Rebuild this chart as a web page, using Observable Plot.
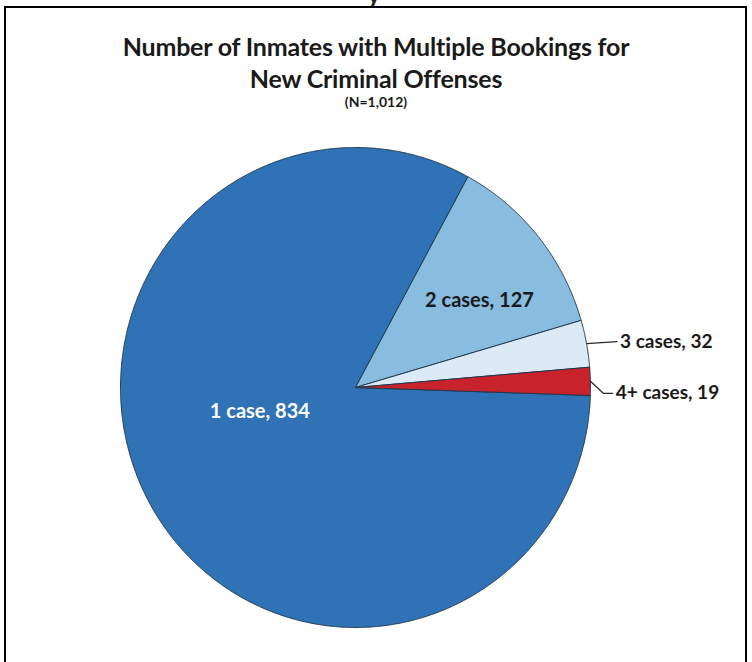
<!DOCTYPE html>
<html>
<head>
<meta charset="utf-8">
<script src="https://cdn.jsdelivr.net/npm/d3@7"></script>
<script src="https://cdn.jsdelivr.net/npm/@observablehq/plot@0.6"></script>
<style>
  html, body { margin: 0; padding: 0; background: #fff; }
  #wrap { position: relative; width: 752px; height: 662px; overflow: hidden; background: #fff; }
  #frame { position: absolute; left: 4px; top: 6px; width: 739px; height: 720px; border: 2px solid #000; border-bottom: none; }
  #cut { position: absolute; left: 367px; top: -22px; font: bold 26px "Lato", sans-serif; color: #222; }
  #title { position: absolute; left: 0; top: 0; width: 752px; height: 120px; text-align: center; font-family: "Lato", "Open Sans", sans-serif; font-weight: bold; color: #1a1a1a; }
  #t1 { position: absolute; left: 0; width: 752px; top: 31px; font-size: 25px; line-height: 30px; letter-spacing: -0.2px; }
  #t2 { position: absolute; left: 0; width: 752px; top: 63px; font-size: 25px; line-height: 30px; letter-spacing: -0.2px; }
  #t3 { position: absolute; left: 0; width: 752px; top: 94px; font-size: 14px; line-height: 16px; }
  #chart { position: absolute; left: 0; top: 120px; }
</style>
</head>
<body>
<div id="wrap">
  <div id="cut">y</div>
  <div id="frame"></div>
  <div id="title">
    <div id="t1">Number of Inmates with Multiple Bookings for</div>
    <div id="t2">New Criminal Offenses</div>
    <div id="t3">(N=1,012)</div>
  </div>
  <div id="chart"></div>
</div>
<script>
const categories = ["1 case", "2 cases", "3 cases", "4+ cases"];
const counts = [834, 127, 32, 19];
const sliceColors = ["#2f72b5", "#88bde0", "#dceaf6", "#c8222c"];
const labels = ["1 case, 834", "2 cases, 127", "3 cases, 32", "4+ cases, 19"];

const startDeg = 91.9;
const a0 = startDeg * Math.PI / 180;
const arcs = d3.pie().sort(null).startAngle(a0).endAngle(a0 + 2 * Math.PI)(counts);

// slice polygons built from the pie angles
const pts = [];
arcs.forEach((a, i) => {
  const cat = categories[i];
  pts.push({cat, x: 0, y: 0});
  const n = Math.max(2, Math.ceil((a.endAngle - a.startAngle) / 0.004));
  for (let k = 0; k <= n; k++) {
    const t = a.startAngle + (a.endAngle - a.startAngle) * k / n;
    pts.push({cat, x: Math.sin(t), y: Math.cos(t)});
  }
  pts.push({cat, x: 0, y: 0});
});

const mid = arcs.map(a => (a.startAngle + a.endAngle) / 2);
const at = (i, r) => ({x: r * Math.sin(mid[i]), y: r * Math.cos(mid[i])});

const inside1 = [{...at(0, 0.42), label: labels[0]}];
const inside2 = [{...at(1, 0.65), label: labels[1]}];

// leader lines for small slices
const e2 = at(2, 1.0), e3 = at(3, 1.0);
const leaders = [
  {g: 2, x: e2.x, y: e2.y}, {g: 2, x: e2.x + 0.13, y: e2.y + 0.008},
  {g: 3, x: e3.x, y: e3.y}, {g: 3, x: e3.x + 0.055, y: e3.y - 0.05}, {g: 3, x: e3.x + 0.095, y: e3.y - 0.05}
];
const outside = [
  {x: e2.x + 0.13, y: e2.y + 0.008, label: labels[2]},
  {x: e3.x + 0.095, y: e3.y - 0.05, label: labels[3]}
];

const font = {fontFamily: "Lato", fontWeight: "bold", fontSize: 19};

const chart = Plot.plot({
  width: 752,
  height: 542,
  margin: 0,
  x: {domain: [-1, 1], range: [120, 590], axis: null},
  y: {domain: [-1, 1], range: [507, 27], axis: null},
  color: {domain: categories, range: sliceColors},
  style: {background: "transparent", overflow: "visible"},
  marks: [
    Plot.line(pts, {x: "x", y: "y", z: "cat", fill: "cat", stroke: "#22384f", strokeWidth: 1, strokeLinejoin: "round", curve: "linear"}),
    Plot.line(leaders, {x: "x", y: "y", z: "g", stroke: "#2a2a2a", strokeWidth: 1.3, curve: "linear"}),
    Plot.text(inside1, {x: "x", y: "y", text: "label", fill: "#ffffff", dx: -10, dy: -26, ...font, fontSize: 20}),
    Plot.text(inside2, {x: "x", y: "y", text: "label", fill: "#1a1a1a", dx: 5, dy: 11, ...font, fontSize: 20}),
    Plot.text(outside, {x: "x", y: "y", text: "label", textAnchor: "start", dx: 3, fill: "#1a1a1a", ...font})
  ]
});
document.getElementById("chart").appendChild(chart);
</script>
</body>
</html>
